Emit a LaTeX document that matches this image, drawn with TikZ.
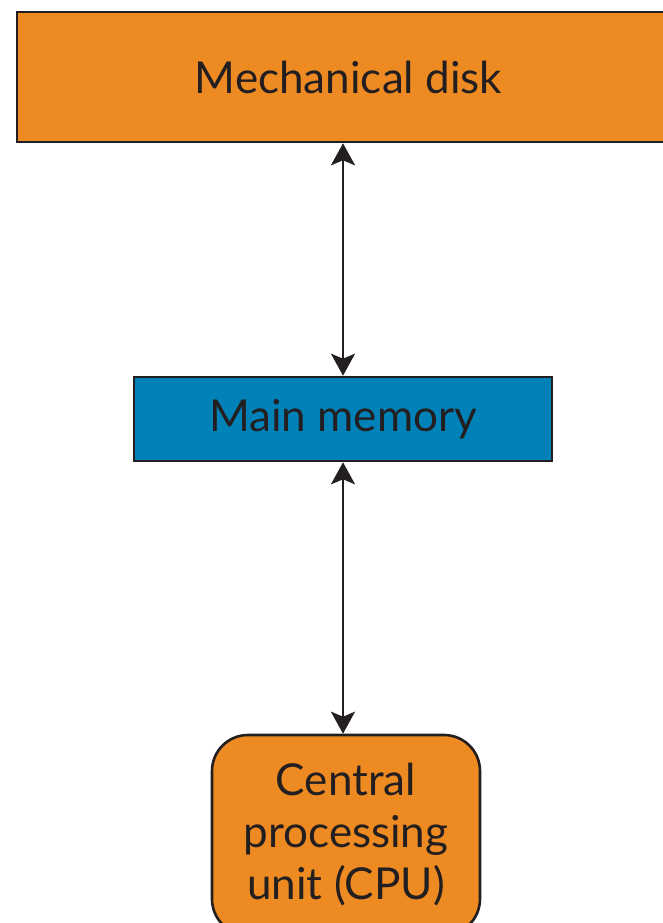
\documentclass[tikz,border=0pt]{standalone}
\usepackage{fontspec}
\setmainfont{Lato}
\usetikzlibrary{arrows.meta}
\definecolor{boxorange}{RGB}{238,138,34}
\definecolor{boxblue}{RGB}{0,130,185}
\definecolor{ink}{RGB}{35,31,32}
\begin{document}
\begin{tikzpicture}[x=1pt,y=-1pt,
  box/.style={draw=ink,line width=2.6pt,inner sep=0pt,text=ink,align=center,
    font=\fontsize{44}{52}\selectfont},
  link/.style={draw=ink,line width=2.4pt,
    {Stealth[length=22pt,width=24pt,inset=5pt]}-{Stealth[length=22pt,width=24pt,inset=5pt]}}]
\useasboundingbox (0,0) rectangle (662,923);
\node[box,fill=boxorange,minimum width=663pt,minimum height=130pt] (disk) at (348.5,77) {\raisebox{-3pt}{Mechanical disk}};
\node[box,fill=boxblue,minimum width=418pt,minimum height=84pt] (mem) at (343,419) {Main memory};
\node[box,fill=boxorange,rounded corners=36pt,minimum width=268pt,minimum height=200pt] (cpu) at (346,835) {Central\\processing\\unit (CPU)};
\draw[link] (mem.north |- disk.south) -- (mem.north);
\draw[link] (mem.south) -- (mem.south |- cpu.north);
\end{tikzpicture}
\end{document}
